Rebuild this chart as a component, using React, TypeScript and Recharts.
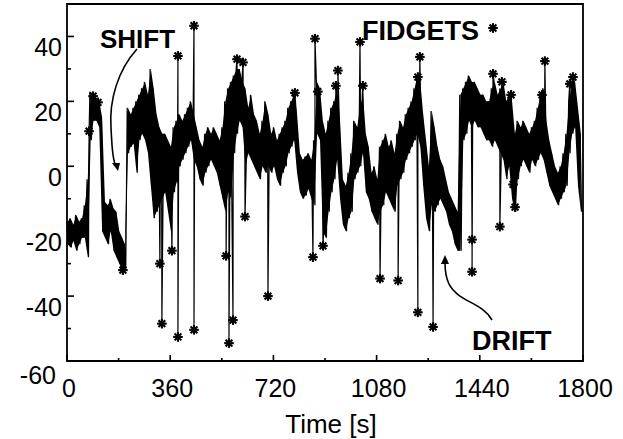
import { ComposedChart, Line, Area, Scatter, XAxis, YAxis, ReferenceArea } from "recharts";

// envelope of the trace, read every 10 s (upper at t, lower at t + 5)
const upper = [
  -17, -16, -18, -15, -17, -16, -12, -4, 23, 22,
  21, 20, 15, -11, -12, -10, -13, -14, -20, -22,
  -24, 18, 16, 18, 20, 22, 24, 26, 22, 30,
  24, 16, 12, 10, 10, 8, 6, 12, 14, 16,
  14, 16, 18, 20, 16, 12, 8, 6, 10, 12,
  10, 12, 10, 8, 12, 20, 24, 26, 28, 30,
  30, 26, 24, 18, 22, 16, 14, 10, 14, 20,
  16, 10, 12, 8, 10, 12, 14, 18, 20, 22,
  16, 4, 2, 3, 4, 2, 8, 26, 24, 14,
  10, 14, 18, 20, 24, 14, -4, -6, -2, 4,
  14, 12, 18, 22, 10, 6, -2, 0, -4, 6,
  8, 10, 6, 8, 4, 10, 14, 12, 16, 18,
  20, 24, 28, 26, 16, 8, 0, 17, 12, 6,
  2, 0, -4, -8, -10, -12, -14, 22, 24, 26,
  28, 26, 26, 24, 22, 22, 20, 20, 24, 26,
  22, 24, 26, 20, 22, 20, 10, 14, 12, 14,
  12, 10, 12, 14, 18, 22, 24, 14, 8, 4,
  0, -2, 0, 4, 10, 20, 26, 26, 18, 10,
];
const lower = [
  -24, -25, -23, -26, -24, -22, -22, -28, 8, 14,
  14, 12, -20, -22, -24, -20, -26, -28, -30, -32,
  -32, 4, 6, 7, -2, 8, 10, 8, 4, -6,
  -16, -14, -12, -10, -8, -14, -20, -8, -5, 0,
  2, 4, 6, 8, 2, 0, -4, -6, -2, 0,
  2, 0, -2, -6, -10, -14, -8, -10, 4, 10,
  14, 12, 0, 4, 2, 0, -2, -4, 0, -2,
  0, -2, 0, -4, -6, -2, 0, 4, 6, 8,
  -2, -8, -10, -9, -7, -10, -12, 10, 8, -20,
  -22, -14, -8, -4, 2, -10, -18, -20, -16, -14,
  -4, -2, 0, 4, -8, -10, -14, -16, -18, -14,
  -12, -8, -10, -12, -14, -6, -4, -2, 2, 4,
  6, 8, 10, 6, -6, -16, -20, -12, -14, -12,
  -10, -12, -14, -18, -20, -24, -26, -26, 8, 10,
  14, 12, 14, 12, 12, 10, 8, 8, 6, 8,
  6, 4, 2, -4, 0, -10, -14, -4, 0, 2,
  0, -2, 2, 0, 2, 4, 2, -2, -6, -8,
  -10, -12, -10, -8, -6, 4, 10, 12, -6, -14,
];

// fidget events (asterisks)
const starTimes = [
  77, 91, 108, 195, 324, 331, 366, 387, 387, 443,
  443, 555, 565, 579, 593, 614, 621, 701, 795, 858,
  865, 875, 893, 938, 945, 1022, 1032, 1092, 1155, 1224,
  1224, 1231, 1277, 1413, 1413, 1486, 1510, 1517, 1549, 1556,
  1563, 1657, 1667, 1754, 1765,
];
const starValues = [
  10.8, 21.6, 19.7, -32, -30, -48.5, -26, 34, -52.6, 43.3,
  -50.4, -27.6, -54.5, -47.4, 33, 32, -15.5, -40, 22.6, -28,
  39.3, 23, -24.5, 24.8, 29.5, 38.3, 24.8, -34.6, -35.2, -45,
  27.5, 33.7, -49.5, -22.6, -32.5, 28.5, -18.6, 26, 22, -5.6,
  -12.6, 22, 32.4, 25.4, 27.5,
];

const xTicks = [0, 180, 360, 540, 720, 900, 1080, 1260, 1440, 1620, 1800];
const xLabels = [0, 360, 720, 1080, 1440, 1800];
const yTicks = [-60, -50, -40, -30, -20, -10, 0, 10, 20, 30, 40, 50];
const yLabels = [-60, -40, -20, 0, 20, 40];
const rightTicks = [-55, -50, -45, -40, -35, -30, -25, -20, -15, -10, -5, 0, 5, 10, 15, 20, 25, 30, 35, 40, 45];

const stars = starTimes.map((t, i) => ({ t, v: starValues[i] }));
const trace: { t: number; v: number }[] = [];
upper.forEach((u, k) => {
  trace.push({ t: k * 10, v: u });
  trace.push({ t: k * 10 + 5, v: lower[k] });
});
const lineData = [...trace, ...stars].sort((a, b) => a.t - b.t);
const bandData = upper.map((u, k) => ({ t: k * 10 + 2.5, range: [lower[k], u] }));

const FONT = '"Liberation Sans", Arial, sans-serif';

function Asterisk({ cx, cy }: { cx?: number; cy?: number }) {
  if (cx == null || cy == null) return null;
  const r = 4.8;
  const d = r * 0.707;
  return (
    <g stroke="#000" strokeWidth={2.1}>
      <line x1={cx - r} y1={cy} x2={cx + r} y2={cy} />
      <line x1={cx} y1={cy - r} x2={cx} y2={cy + r} />
      <line x1={cx - d} y1={cy - d} x2={cx + d} y2={cy + d} />
      <line x1={cx - d} y1={cy + d} x2={cx + d} y2={cy - d} />
    </g>
  );
}

// eslint-disable-next-line @typescript-eslint/no-explicit-any
function BottomTick(props: any) {
  const { x, y, payload } = props;
  const major = xLabels.includes(payload.value);
  return (
    <g>
      <path d={`M${x},${y}V${y - (major ? 6 : 3)}`} stroke="#000" strokeWidth={1.6} />
      {major && (
        <text x={x + 2} y={y + 36} textAnchor="middle" fontSize={25} fontFamily={FONT} fill="#000">
          {payload.value}
        </text>
      )}
    </g>
  );
}

// eslint-disable-next-line @typescript-eslint/no-explicit-any
function LeftTick(props: any) {
  const { x, y, payload } = props;
  const major = yLabels.includes(payload.value);
  const low = payload.value === -60;
  return (
    <g>
      <path d={`M${x},${y}H${x + (major ? 7 : 4)}`} stroke="#000" strokeWidth={1.6} />
      {major && (
        <text x={low ? x - 11 : x - 5} y={y + (low ? 23 : 20)} textAnchor="end" fontSize={25} fontFamily={FONT} fill="#000">
          {payload.value}
        </text>
      )}
    </g>
  );
}

// eslint-disable-next-line @typescript-eslint/no-explicit-any
function RightTick(props: any) {
  const { x, y } = props;
  return <path d={`M${x},${y}H${x - 3}`} stroke="#000" strokeWidth={1.2} />;
}

export default function App() {
  return (
    <div style={{ position: "absolute", left: 0, top: 0, width: 623, height: 439, background: "#fff" }}>
      <ComposedChart width={623} height={439} margin={{ top: 4, right: 39, bottom: 77, left: 66 }}>
        <XAxis
          dataKey="t"
          type="number"
          domain={[0, 1800]}
          ticks={xTicks}
          interval={0}
          height={1}
          tickSize={0}
          tickMargin={0}
          tick={<BottomTick />}
          axisLine={false}
          tickLine={false}
        />
        <YAxis
          type="number"
          domain={[-60, 50]}
          ticks={yTicks}
          interval={0}
          width={1}
          tickSize={0}
          tickMargin={0}
          tick={<LeftTick />}
          axisLine={false}
          tickLine={false}
        />
        <YAxis
          yAxisId="right"
          orientation="right"
          type="number"
          domain={[-60, 50]}
          ticks={rightTicks}
          interval={0}
          width={1}
          tickSize={0}
          tickMargin={0}
          tick={<RightTick />}
          axisLine={false}
          tickLine={false}
        />
        <ReferenceArea
          x1={0}
          x2={1800}
          y1={-60}
          y2={50}
          fill="none"
          stroke="#000"
          strokeWidth={1.8}
          ifOverflow="visible"
        />
        <Area
          data={bandData}
          type="linear"
          dataKey="range"
          stroke="none"
          fill="#000"
          fillOpacity={1}
          isAnimationActive={false}
        />
        <Line
          data={lineData}
          type="linear"
          dataKey="v"
          stroke="#000"
          strokeWidth={1.2}
          dot={false}
          activeDot={false}
          isAnimationActive={false}
        />
        <Scatter data={stars} dataKey="v" shape={<Asterisk />} isAnimationActive={false} />
      </ComposedChart>
      <svg
        width={623}
        height={439}
        style={{ position: "absolute", left: 0, top: 0, pointerEvents: "none" }}
      >
        <text x={100} y={48} fontSize={26} fontWeight="bold" fontFamily={FONT} fill="#000">
          SHIFT
        </text>
        <path d="M137,49 C118,70 109,100 111,128 C112,145 112,156 115,164" fill="none" stroke="#000" strokeWidth={1.6} />
        <polygon points="112,163 120,163 118,171" fill="#000" />
        <text x={362} y={40} fontSize={27} fontWeight="bold" fontFamily={FONT} fill="#000">
          FIDGETS
        </text>
        <Asterisk cx={493} cy={28} />
        <text x={472} y={350} fontSize={27} fontWeight="bold" fontFamily={FONT} fill="#000">
          DRIFT
        </text>
        <path d="M492,320 C482,302 458,302 449,284 C445,276 445,268 445,262" fill="none" stroke="#000" strokeWidth={1.6} />
        <polygon points="441,264 449,264 445,255" fill="#000" />
        <text x={331} y={433} textAnchor="middle" fontSize={26} fontFamily={FONT} fill="#000">
          Time [s]
        </text>
      </svg>
    </div>
  );
}
